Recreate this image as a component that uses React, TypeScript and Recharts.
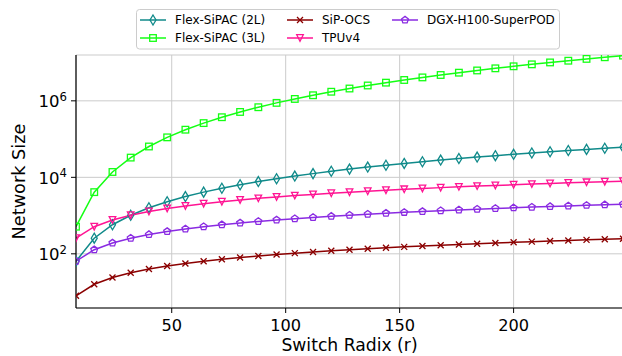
import { LineChart, Line, XAxis, YAxis, CartesianGrid } from 'recharts';

// switch radix values (x)
const radix = [8, 16, 24, 32, 40, 48, 56, 64, 72, 80, 88, 96, 104, 112, 120, 128, 136, 144, 152, 160, 168, 176, 184, 192, 200, 208, 216, 224, 232, 240, 248];

// network size per series
const flex2L = [64, 256, 576, 1020, 1600, 2300, 3140, 4100, 5180, 6400, 7740, 9200, 10800, 12500, 14400, 16400, 18500, 20700, 23100, 25600, 28200, 31000, 33900, 36900, 40000, 43300, 46700, 50200, 53800, 57600, 61500];
const flex3L = [512, 4100, 13800, 32800, 64000, 111000, 176000, 262000, 373000, 512000, 681000, 885000, 1120000, 1400000, 1730000, 2100000, 2520000, 2990000, 3510000, 4100000, 4740000, 5450000, 6230000, 7080000, 8000000, 9000000, 10100000, 11200000, 12500000, 13800000, 15250000];
const sipOcs = [8, 16, 24, 32, 40, 48, 56, 64, 72, 80, 88, 96, 104, 112, 120, 128, 136, 144, 152, 160, 168, 176, 184, 192, 200, 208, 216, 224, 232, 240, 248];
const tpuV4 = [256, 512, 768, 1024, 1280, 1540, 1790, 2050, 2300, 2560, 2820, 3070, 3330, 3580, 3840, 4100, 4350, 4610, 4860, 5120, 5380, 5630, 5890, 6140, 6400, 6660, 6910, 7170, 7420, 7680, 7940];
const dgxH100 = [64, 128, 192, 256, 320, 384, 448, 512, 576, 640, 704, 768, 832, 896, 960, 1024, 1088, 1152, 1216, 1280, 1344, 1408, 1472, 1536, 1600, 1664, 1728, 1792, 1856, 1920, 1984];

const xTicks = [50, 100, 150, 200];
const yTicks = [100, 10000, 1000000];

const data = radix.map((r, i) => ({
  r,
  flex2L: flex2L[i],
  flex3L: flex3L[i],
  sipOcs: sipOcs[i],
  tpuV4: tpuV4[i],
  dgxH100: dgxH100[i],
}));

const series = [
  { key: 'flex2L', name: 'Flex-SiPAC (2L)', color: '#108a8a', shape: 'thinDiamond' },
  { key: 'flex3L', name: 'Flex-SiPAC (3L)', color: '#14ff14', shape: 'square' },
  { key: 'sipOcs', name: 'SiP-OCS', color: '#8b0000', shape: 'x' },
  { key: 'tpuV4', name: 'TPUv4', color: '#ff1493', shape: 'triangleDown' },
  { key: 'dgxH100', name: 'DGX-H100-SuperPOD', color: '#8a2be2', shape: 'pentagon' },
];

const FONT = '"DejaVu Sans", sans-serif';

const Marker = ({ shape, color, cx, cy }: any) => {
  if (cx == null || cy == null) return null;
  const st = { fill: 'none', stroke: color, strokeWidth: 1.3 };
  if (shape === 'thinDiamond') {
    return <polygon points={`${cx},${cy - 5} ${cx + 3},${cy} ${cx},${cy + 5} ${cx - 3},${cy}`} {...st} />;
  }
  if (shape === 'square') {
    return <rect x={cx - 3.3} y={cy - 3.3} width={6.6} height={6.6} {...st} />;
  }
  if (shape === 'x') {
    return <path d={`M${cx - 3},${cy - 3}L${cx + 3},${cy + 3}M${cx - 3},${cy + 3}L${cx + 3},${cy - 3}`} {...st} />;
  }
  if (shape === 'triangleDown') {
    return <polygon points={`${cx - 3.3},${cy - 3.3} ${cx + 3.3},${cy - 3.3} ${cx},${cy + 3.3}`} {...st} />;
  }
  const pts = [0, 1, 2, 3, 4]
    .map((k) => {
      const a = (-90 + k * 72) * Math.PI / 180;
      return `${cx + 3.6 * Math.cos(a)},${cy + 3.6 * Math.sin(a)}`;
    })
    .join(' ');
  return <polygon points={pts} {...st} />;
};

const XTick = ({ x, y, payload }: any) => (
  <text x={x} y={y + 13} textAnchor="middle" fontSize={16.2} fontFamily={FONT} fill="#000">
    {payload.value}
  </text>
);

const YTick = ({ x, y, payload }: any) => {
  const exp = Math.round(Math.log10(payload.value));
  return (
    <text x={x + 1} y={y + 6.5} textAnchor="end" fontSize={16.5} fontFamily={FONT} fill="#000">
      <tspan>10</tspan>
      <tspan dy={-6.5} fontSize={11.7}>{exp}</tspan>
    </text>
  );
};

const XLabel = ({ viewBox }: any) => (
  <text x={viewBox.x + viewBox.width / 2} y={350.5} textAnchor="middle" fontSize={17.2} fontFamily={FONT} fill="#000">
    Switch Radix (r)
  </text>
);

const YLabel = ({ viewBox }: any) => {
  const cy = viewBox.y + viewBox.height / 2;
  return (
    <text x={25} y={cy} transform={`rotate(-90 25 ${cy})`} textAnchor="middle" fontSize={17.7} fontFamily={FONT} fill="#000">
      Network Size
    </text>
  );
};

const LegendBox = () => {
  const cols = [4, 151, 256];
  const rows = [11, 29];
  const place = [
    [0, 0],
    [0, 1],
    [1, 0],
    [1, 1],
    [2, 0],
  ];
  return (
    <svg width={425} height={42} style={{ position: 'absolute', left: 136, top: 9 }}>
      <rect x={0.5} y={0.5} width={423} height={39.5} rx={3} fill="#fff" fillOpacity={0.8} stroke="#cccccc" />
      {series.map((s, i) => {
        const x0 = cols[place[i][0]];
        const y = rows[place[i][1]];
        return (
          <g key={s.key}>
            <line x1={x0} x2={x0 + 26} y1={y} y2={y} stroke={s.color} strokeWidth={1.5} />
            <Marker shape={s.shape} color={s.color} cx={x0 + 13} cy={y} />
            <text x={x0 + 35} y={y + 4.4} fontSize={12} fontFamily={FONT} fill="#000">
              {s.name}
            </text>
          </g>
        );
      })}
    </svg>
  );
};

export default function App() {
  return (
    <div style={{ position: 'absolute', left: 0, top: 0, width: 622, height: 356, overflow: 'hidden', background: '#fff' }}>
      <LineChart width={630} height={356} data={data} margin={{ top: 55, right: 7, bottom: 0, left: 0 }}>
        <CartesianGrid stroke="#cbcbcb" strokeWidth={1} />
        <XAxis
          dataKey="r"
          type="number"
          domain={[8, 248]}
          ticks={xTicks}
          allowDataOverflow
          height={48}
          tickSize={5}
          tickMargin={5}
          tick={<XTick />}
          tickLine={{ stroke: '#000' }}
          axisLine={{ stroke: '#000', strokeWidth: 1.2 }}
          label={<XLabel />}
        />
        <XAxis
          xAxisId="top"
          orientation="top"
          type="number"
          domain={[8, 248]}
          ticks={[]}
          tick={false}
          tickLine={false}
          height={0}
          axisLine={{ stroke: '#000', strokeWidth: 1.2 }}
        />
        <YAxis
          type="number"
          scale="log"
          domain={[3.83, 1.58e7]}
          ticks={yTicks}
          allowDataOverflow
          width={76}
          tickSize={5}
          tickMargin={5}
          tick={<YTick />}
          tickLine={{ stroke: '#000' }}
          axisLine={{ stroke: '#000', strokeWidth: 1.2 }}
          label={<YLabel />}
        />
        {series.map((s) => (
          <Line
            key={s.key}
            dataKey={s.key}
            name={s.name}
            type="linear"
            stroke={s.color}
            strokeWidth={1.5}
            isAnimationActive={false}
            dot={(p: any) => <Marker key={`${s.key}-${p.index}`} shape={s.shape} color={s.color} cx={p.cx} cy={p.cy} />}
            activeDot={false}
          />
        ))}
      </LineChart>
      <LegendBox />
    </div>
  );
}
